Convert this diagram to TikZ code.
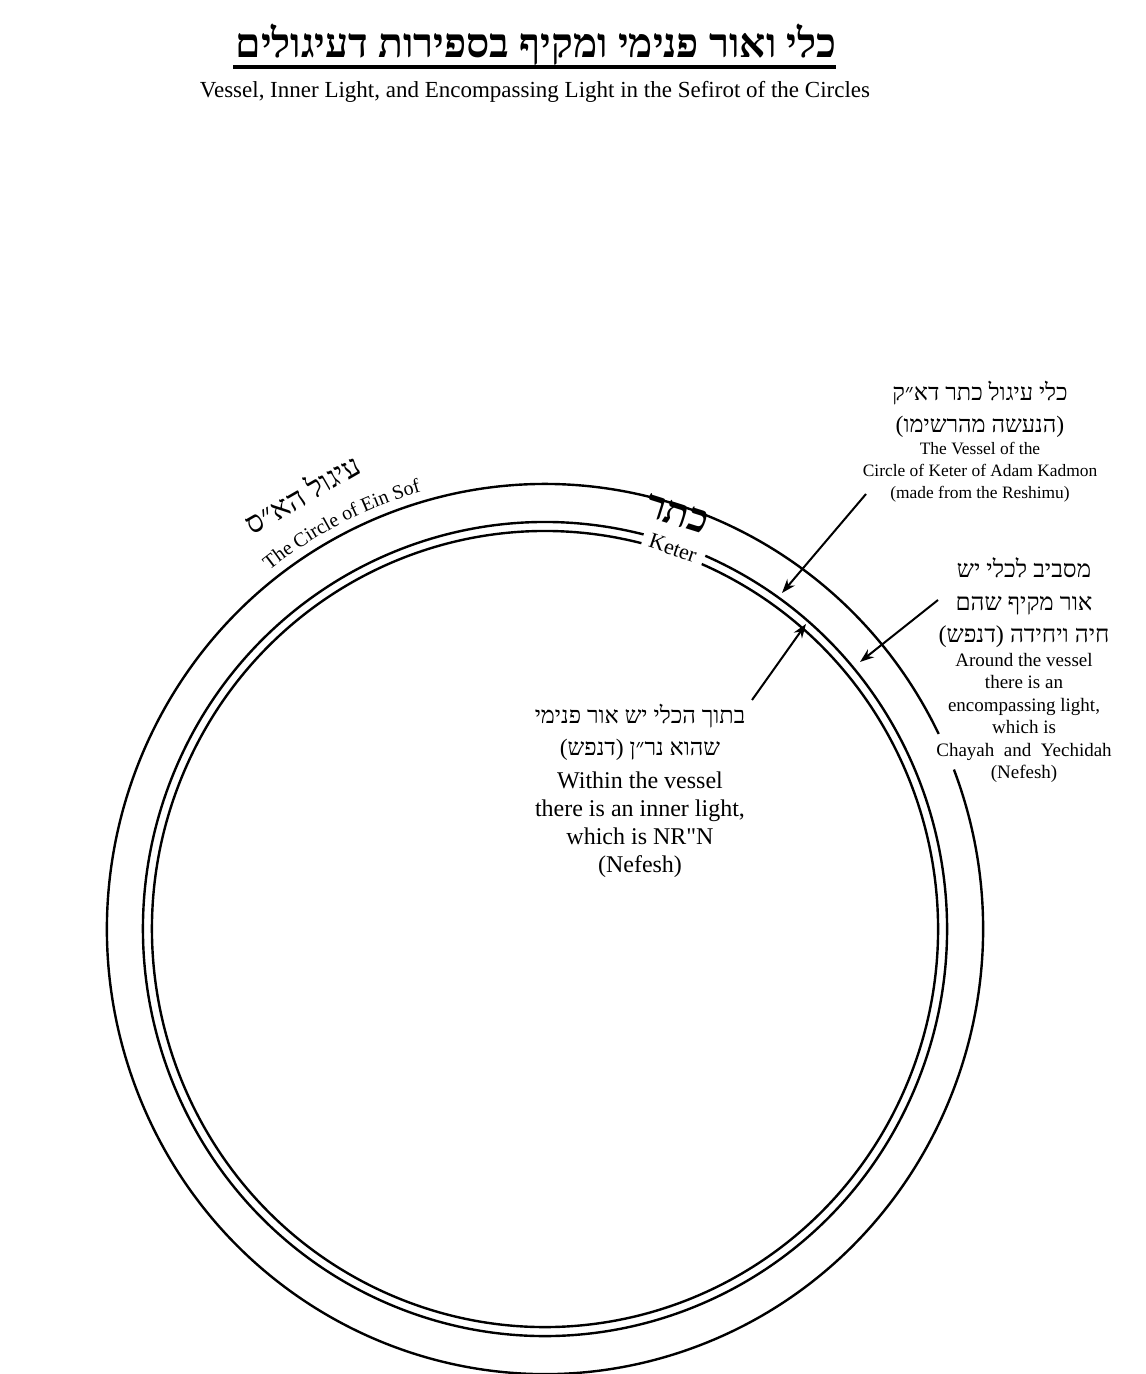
\documentclass[tikz,border=0pt]{standalone}
\usepackage{fontspec}
\setmainfont{Liberation Serif}
\newfontfamily\hebfont[Script=Hebrew]{Liberation Serif}
\TeXXeTstate=1
\usetikzlibrary{arrows.meta}
\usetikzlibrary{decorations.text}

\tikzset{
  kreis/.style={line width=1.2pt},
  pfeil/.style={line width=1pt, -{Stealth[length=7pt, width=5pt]}},
  heb/.style={align=center, font=\hebfont\fontsize{11.8}{16}\selectfont},
}

\begin{document}
\begin{tikzpicture}[x=0.5pt, y=-0.5pt]
\useasboundingbox (0,0) rectangle (1145,1374);

% title
\node[font=\hebfont\bfseries\fontsize{20.4}{26}\selectfont] (titel) at (536,45) {\beginR כלי ואור פנימי ומקיף בספירות דעיגולים\endR};
\draw[line width=2pt] (233,67) -- (836,67);
\node[font=\fontsize{11.5}{13}\selectfont] (untertitel) at (535,92) {Vessel, Inner Light, and Encompassing Light in the Sefirot of the Circles};

% circle of ein sof (gap at the right)
\draw[kreis] (545,929) ++(-21:438 and 445) arc[start angle=-21, end angle=334, x radius=438, y radius=445];
% vessel of keter, two lines (gap for the label)
\draw[kreis] (545,929) ++(-66.5:402 and 407) arc[start angle=-66.5, end angle=284.2, x radius=402, y radius=407];
\draw[kreis] (545,929) ++(-66.5:393 and 398) arc[start angle=-66.5, end angle=284.2, x radius=393, y radius=398];

% labels on the circles
\node[font=\hebfont\fontsize{15}{17}\selectfont, rotate=30] (einsofheb) at (302,493) {\beginR עיגול הא״ס\endR};
\path[decorate, decoration={text along path, text align=center,
  text={|\fontsize{10}{12}\selectfont|The Circle of Ein Sof}}]
  (545,929) ++(229:448 and 455) arc[start angle=229, end angle=257, x radius=448, y radius=455];
\node[font=\hebfont\bfseries\fontsize{20}{22}\selectfont, rotate=-17.5] (keterheb) at (677,514) {\beginR כתר\endR};
\node[font=\fontsize{11}{13}\selectfont, rotate=-18.5] (keter) at (673,548) {Keter};

% vessel
\node[heb] (kliheb) at (980,409) {\beginR כלי עיגול כתר דא״ק\endR\\\beginR (הנעשה מהרשימו)\endR};
\node[align=center, font=\fontsize{8.7}{11}\selectfont] (klieng) at (980,472) {The Vessel of the\\Circle of Keter of Adam Kadmon\\(made from the Reshimu)};

% encompassing light
\node[heb, font=\hebfont\fontsize{12.1}{16.2}\selectfont] (makifheb) at (1024,603) {\beginR מסביב לכלי יש\endR\\\beginR אור מקיף שהם\endR\\\beginR חיה ויחידה (דנפש)\endR};
\node[align=center, font=\fontsize{9.5}{11.2}\selectfont] (makifeng) at (1024,718) {Around the vessel\\there is an\\encompassing light,\\which is\\Chayah\ \ and\ \ Yechidah\\(Nefesh)};

% inner light
\node[heb] (pnimiheb) at (640,732) {\beginR בתוך הכלי יש אור פנימי\endR\\\beginR שהוא נר״ן (דנפש)\endR};
\node[align=center, font=\fontsize{12}{14}\selectfont] (pnimieng) at (640,825) {Within the vessel\\there is an inner light,\\which is NR\textquotedbl N\\(Nefesh)};

% arrows
\coordinate (vesseltail) at (866,494);
\coordinate (vesseltip) at (782,593);
\coordinate (makiftail) at (938,600);
\coordinate (makiftip) at (860,662);
\coordinate (pnimitail) at (752,700);
\coordinate (pnimitip) at (806,624);
\draw[pfeil] (vesseltail) -- (vesseltip);
\draw[pfeil] (makiftail) -- (makiftip);
\draw[pfeil] (pnimitail) -- (pnimitip);
\end{tikzpicture}
\end{document}
